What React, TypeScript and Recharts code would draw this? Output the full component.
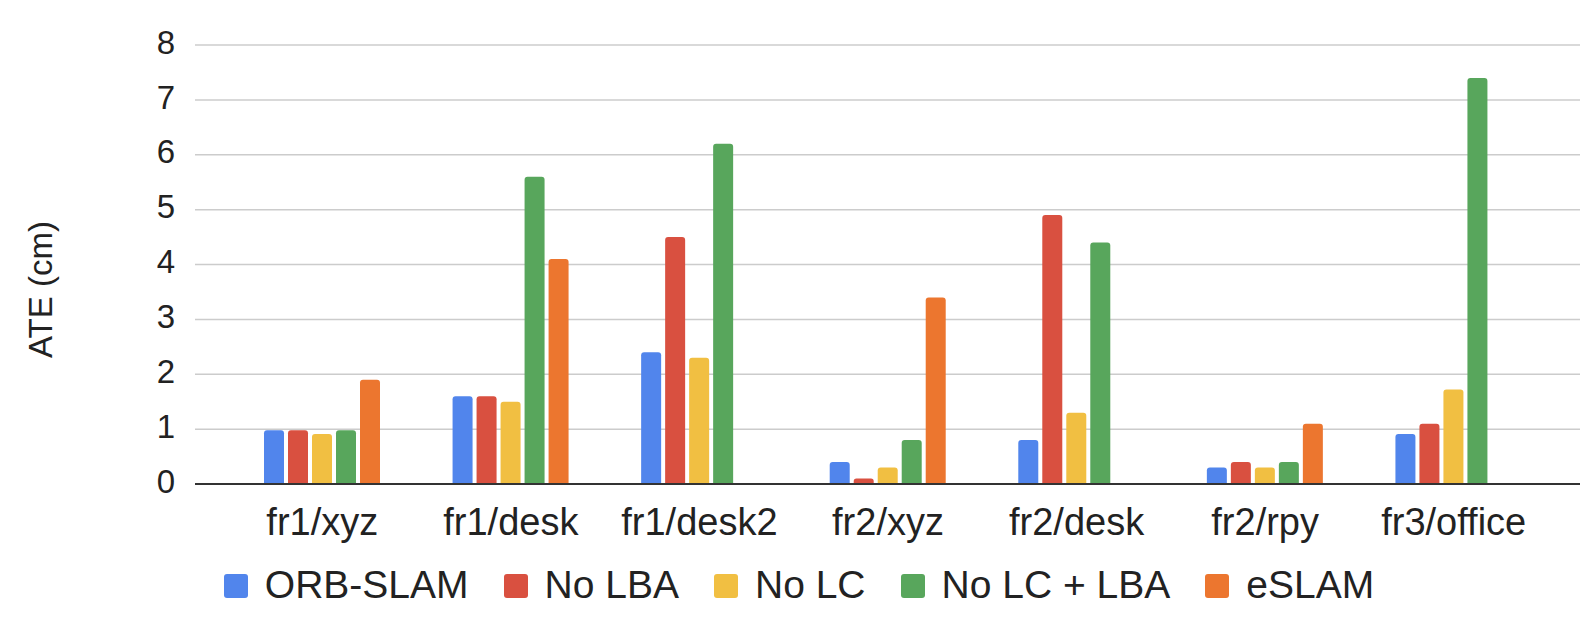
import React from 'react';
import { BarChart, Bar, XAxis, YAxis, CartesianGrid, Legend, Label } from 'recharts';

const categories = ['fr1/xyz', 'fr1/desk', 'fr1/desk2', 'fr2/xyz', 'fr2/desk', 'fr2/rpy', 'fr3/office'];
const orbSlam = [0.98, 1.6, 2.4, 0.4, 0.8, 0.3, 0.91];
const noLBA = [0.98, 1.6, 4.5, 0.1, 4.9, 0.4, 1.1];
const noLC = [0.91, 1.5, 2.3, 0.3, 1.3, 0.3, 1.72];
const noLCLBA = [0.98, 5.6, 6.2, 0.8, 4.4, 0.4, 7.4];
const eSlam = [1.9, 4.1, 0, 3.4, 0, 1.1, 0];
const yTicks = [0, 1, 2, 3, 4, 5, 6, 7, 8];

const seriesNames = ['ORB-SLAM', 'No LBA', 'No LC', 'No LC + LBA', 'eSLAM'];
const seriesColors = ['#5185EC', '#D95040', '#F1BF42', '#58A65C', '#EC762F'];
const seriesValues = [orbSlam, noLBA, noLC, noLCLBA, eSlam];

const data = categories.map((c, i) => {
  const row: Record<string, string | number> = { name: c };
  seriesNames.forEach((s, j) => {
    row[s] = seriesValues[j][i];
  });
  return row;
});

const FONT = '"Liberation Sans", Arial, sans-serif';

const renderLegend = () => (
  <div
    style={{
      display: 'flex',
      justifyContent: 'center',
      alignItems: 'center',
      height: 38,
      paddingLeft: 18,
      fontFamily: FONT,
      fontSize: 39,
      lineHeight: '38px',
      color: '#222',
    }}
  >
    {seriesNames.map((s, i) => (
      <div
        key={s}
        style={{ display: 'flex', alignItems: 'center', marginRight: i < seriesNames.length - 1 ? 35 : 0 }}
      >
        <span
          style={{
            display: 'inline-block',
            width: 24,
            height: 24,
            borderRadius: 3,
            background: seriesColors[i],
            marginRight: 17,
            marginTop: 2,
          }}
        />
        <span style={{ whiteSpace: 'nowrap' }}>{s}</span>
      </div>
    ))}
  </div>
);

const YTitle = (props: any) => {
  const vb = props.viewBox || { x: 0, y: 0, height: 0 };
  const cx = vb.x + 40;
  const cy = vb.y + vb.height / 2 + 25;
  return (
    <text
      x={cx}
      y={cy}
      transform={`rotate(-90 ${cx} ${cy})`}
      textAnchor="middle"
      dominantBaseline="central"
      fontFamily={FONT}
      fontSize={33}
      fill="#222"
    >
      ATE (cm)
    </text>
  );
};

export default function App() {
  return (
    <div style={{ position: 'absolute', left: 0, top: 0, width: 1594, height: 624, background: '#fff' }}>
      <BarChart
        width={1594}
        height={624}
        data={data}
        margin={{ top: 45, right: 14, left: 0, bottom: 20 }}
        barSize={20}
        barGap={4}
      >
        <CartesianGrid vertical={false} stroke="#cccccc" strokeWidth={1.5} />
        <XAxis
          dataKey="name"
          height={82}
          padding={{ left: 33, right: 32 }}
          tickLine={false}
          tickSize={0}
          tickMargin={24}
          axisLine={{ stroke: '#333', strokeWidth: 2 }}
          tick={{ fontFamily: FONT, fontSize: 38, fill: '#222' }}
          interval={0}
        />
        <YAxis
          width={195}
          domain={[0, 8]}
          ticks={yTicks}
          tickLine={false}
          axisLine={false}
          tickSize={0}
          tickMargin={20}
          tick={{ fontFamily: FONT, fontSize: 33, fill: '#222', dy: -3 }}
          interval={0}
        >
          <Label content={<YTitle />} />
        </YAxis>
        <Legend verticalAlign="bottom" content={renderLegend} />
        {seriesNames.map((s, i) => (
          <Bar key={s} dataKey={s} fill={seriesColors[i]} radius={[3, 3, 0, 0]} isAnimationActive={false} />
        ))}
      </BarChart>
    </div>
  );
}
